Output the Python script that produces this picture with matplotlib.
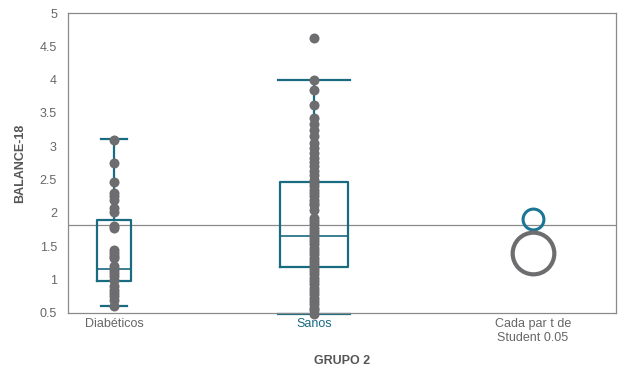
import matplotlib
matplotlib.use("Agg")
import matplotlib.pyplot as plt

plt.rcParams["font.family"] = ["Liberation Sans", "DejaVu Sans"]

categories = ["Diabéticos", "Sanos", "Cada par t de\nStudent 0.05"]

diabeticos = [3.1, 2.75, 2.47, 2.3, 2.25, 2.2, 2.07, 2.02, 1.8, 1.77,
              1.44, 1.4, 1.36, 1.32, 1.2, 1.15, 1.1, 1.05, 1.0,
              0.9, 0.85, 0.8, 0.75, 0.7, 0.6]
sanos = [4.62, 4.0, 3.85, 3.62, 3.42, 3.33, 3.25, 3.15, 3.05, 2.97, 2.9,
         2.83, 2.76, 2.7, 2.63, 2.57, 2.5, 2.45, 2.4, 2.35, 2.3, 2.25,
         2.2, 2.15, 2.12, 2.05, 1.93, 1.88, 1.83, 1.78, 1.73, 1.68, 1.63,
         1.58, 1.53, 1.48, 1.43, 1.38, 1.33, 1.28, 1.23, 1.18, 1.13, 1.08,
         1.03, 0.98, 0.93, 0.88, 0.83, 0.78, 0.73, 0.68, 0.63, 0.58, 0.55,
         0.48]

# box statistics (q1, median, q3, whisker low, whisker high)
box_q1 = [0.98, 1.195]
box_med = [1.16, 1.655]
box_q3 = [1.895, 2.47]
whis_lo = [0.605, 0.48]
whis_hi = [3.11, 4.0]

grand_mean = 1.82
# comparison circles
circle_centers = [1.91, 1.4]
circle_colors = ["#1b7594", "#6d6d70"]
circle_sizes = [15, 30]
circle_lw = [2.2, 3.0]

positions = [0, 1, 2.095]
gray = "#6d6d70"
teal = "#1a6a80"

fig, ax = plt.subplots(figsize=(6.24, 3.77), dpi=100)
fig.subplots_adjust(left=0.109, right=0.987, top=0.9655, bottom=0.17)

stats = []
for i in range(2):
    stats.append(dict(q1=box_q1[i], med=box_med[i], q3=box_q3[i],
                      whislo=whis_lo[i], whishi=whis_hi[i], fliers=[]))
bp = ax.bxp(stats, positions=positions[:2], widths=[0.17, 0.34],
            capwidths=[0.13, 0.36], showfliers=False, patch_artist=False,
            boxprops=dict(color=teal, linewidth=1.6),
            medianprops=dict(color=teal, linewidth=1.2),
            whiskerprops=dict(color=teal, linewidth=1.6),
            capprops=dict(color=teal, linewidth=1.6), zorder=2)
for art in bp["caps"] + bp["whiskers"]:
    art.set_clip_on(False)

ax.axhline(grand_mean, color="#8a8a8a", linewidth=0.9, zorder=1)

for pos, vals in zip(positions[:2], [diabeticos, sanos]):
    ax.plot([pos] * len(vals), vals, "o", color=gray, markersize=7.2,
            markeredgewidth=0, zorder=3, clip_on=False)

for c, col, s, lw in zip(circle_centers, circle_colors, circle_sizes, circle_lw):
    ax.plot(positions[2], c, "o", markerfacecolor="none", markeredgecolor=col,
            markersize=s, markeredgewidth=lw, zorder=3)

ax.set_xlim(-0.23, 2.51)
ax.set_ylim(0.5, 5)
ax.set_xticks(positions)
ax.set_xticklabels(categories, color="#666666", fontsize=9)
ax.get_xticklabels()[1].set_color(teal)
yt = [0.5, 1, 1.5, 2, 2.5, 3, 3.5, 4, 4.5, 5]
ax.set_yticks(yt)
ax.set_yticklabels([f"{v:g}" for v in yt], color="#666666", fontsize=9)
ax.tick_params(axis="both", length=0, pad=4)
ax.tick_params(axis="y", pad=8)

for sp in ax.spines.values():
    sp.set_color("#8a8a8a")
    sp.set_linewidth(0.9)

ax.set_ylabel("BALANCE-18", fontweight="bold", color="#555555", fontsize=9,
              labelpad=10)
ax.set_xlabel("GRUPO 2", fontweight="bold", color="#555555", fontsize=9,
              labelpad=8)

fig.savefig("out.png", dpi=100)
